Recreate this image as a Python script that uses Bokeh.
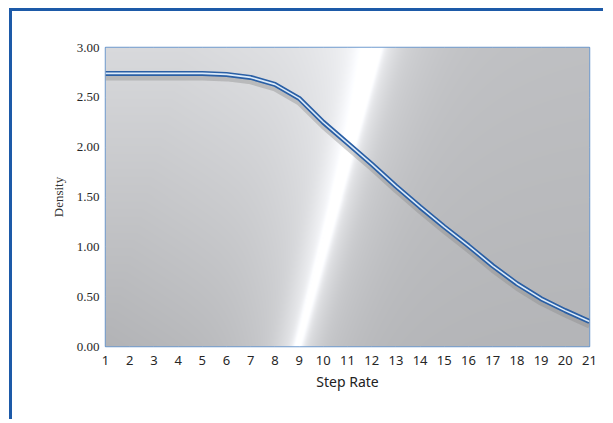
import numpy as np
from bokeh.plotting import figure
from bokeh.models import FixedTicker, NumeralTickFormatter, ColumnDataSource
from bokeh.transform import dodge
from bokeh.embed import file_html
from bokeh.resources import INLINE

step_rate = list(range(1, 22))
density = [2.74, 2.74, 2.74, 2.74, 2.74, 2.73, 2.70, 2.63, 2.49, 2.25, 2.04,
           1.83, 1.61, 1.40, 1.20, 1.01, 0.81, 0.63, 0.48, 0.36, 0.25]
x_ticks = list(range(1, 22))
y_ticks = [0.0, 0.5, 1.0, 1.5, 2.0, 2.5, 3.0]

src = ColumnDataSource(dict(x=step_rate, y=density))

p = figure(width=594, height=411, output_backend="svg", toolbar_location=None,
           x_range=(1, 21), y_range=(0, 3),
           min_border_left=93, min_border_right=17, min_border_top=36, min_border_bottom=76)
p.styles = {"border-top": "3px solid #1d5aa8", "border-left": "3px solid #1d5aa8",
            "margin-left": "9px", "margin-top": "8px"}

# background gradient with a diagonal light streak (decoration only)
W, H = 484, 298
xs = np.arange(W)[None, :].astype(float)
ys = np.arange(H)[:, None].astype(float)  # row 0 = bottom
top_frac = ys / H  # 1 at top
d = xs - 80 * top_frac
base_left = 0.70 + 0.15 * top_frac + 0.05 * np.clip(d / 185, 0, 1)
base_right = 0.705 + 0.04 * top_frac + 0.05 * np.exp(-np.clip(d - 190, 0, None) / 70)
base = np.where(d < 188, base_left, base_right)
streak = (0.12 * np.exp(-((d - 192) / 6) ** 2)
          + 0.10 * np.exp(-((d - 190) / 20) ** 2)
          + 0.05 * np.exp(-((d - 188) / 55) ** 2))
v = np.clip(base + streak, 0, 1)
img = np.zeros((H, W), dtype=np.uint32)
view = img.view(dtype=np.uint8).reshape((H, W, 4))
view[:, :, 0] = (v * 255).astype(np.uint8)
view[:, :, 1] = (np.clip(v + 0.004, 0, 1) * 255).astype(np.uint8)
view[:, :, 2] = (np.clip(v + 0.015, 0, 1) * 255).astype(np.uint8)
view[:, :, 3] = 255
p.image_rgba(image=[img], x=1, y=0, dw=20, dh=3)

p.xgrid.ticker = FixedTicker(ticks=x_ticks)
p.ygrid.ticker = FixedTicker(ticks=y_ticks)
p.xgrid.grid_line_color = "white"
p.xgrid.grid_line_alpha = 0.3
p.ygrid.grid_line_color = "white"
p.ygrid.grid_line_alpha = 0.3
p.background_fill_color = "#c0c0c2"
p.outline_line_color = "#6f9bcf"
p.outline_line_width = 1.5

# shadow, outer blue, inner light
p.line(x="x", y=dodge("y", -0.04, range=p.y_range), source=src, line_color="#8a8a8a",
       line_alpha=0.4, line_width=6)
p.line(x="x", y="y", source=src, line_color="#2a5fa5", line_width=5)
p.line(x="x", y="y", source=src, line_color="#dcebfa", line_width=1.6)

p.xaxis.ticker = FixedTicker(ticks=x_ticks)
p.yaxis.ticker = FixedTicker(ticks=y_ticks)
p.yaxis.formatter = NumeralTickFormatter(format="0.00")
for ax in (p.xaxis[0], p.yaxis[0]):
    ax.axis_line_color = None
    ax.major_tick_line_color = None
    ax.minor_tick_line_color = None
    ax.major_label_text_color = "#262626"
p.xaxis.major_label_text_font = "Noto Sans"
p.xaxis.major_label_text_font_size = "13px"
p.xaxis.major_label_standoff = 3
p.yaxis.major_label_text_font = "Liberation Serif"
p.yaxis.major_label_text_font_size = "13px"
p.yaxis.major_label_standoff = 0
p.xaxis.axis_label = "Step Rate"
p.xaxis.axis_label_text_font = "Noto Sans"
p.xaxis.axis_label_text_font_size = "14px"
p.xaxis.axis_label_text_font_style = "normal"
p.xaxis.axis_label_text_color = "#222222"
p.xaxis.axis_label_standoff = 4
p.yaxis.axis_label = "Density"
p.yaxis.axis_label_text_font = "Liberation Serif"
p.yaxis.axis_label_text_font_size = "13px"
p.yaxis.axis_label_text_font_style = "normal"
p.yaxis.axis_label_text_color = "#333333"
p.yaxis.axis_label_standoff = 8

open("out.html", "w").write(file_html(p, INLINE))
